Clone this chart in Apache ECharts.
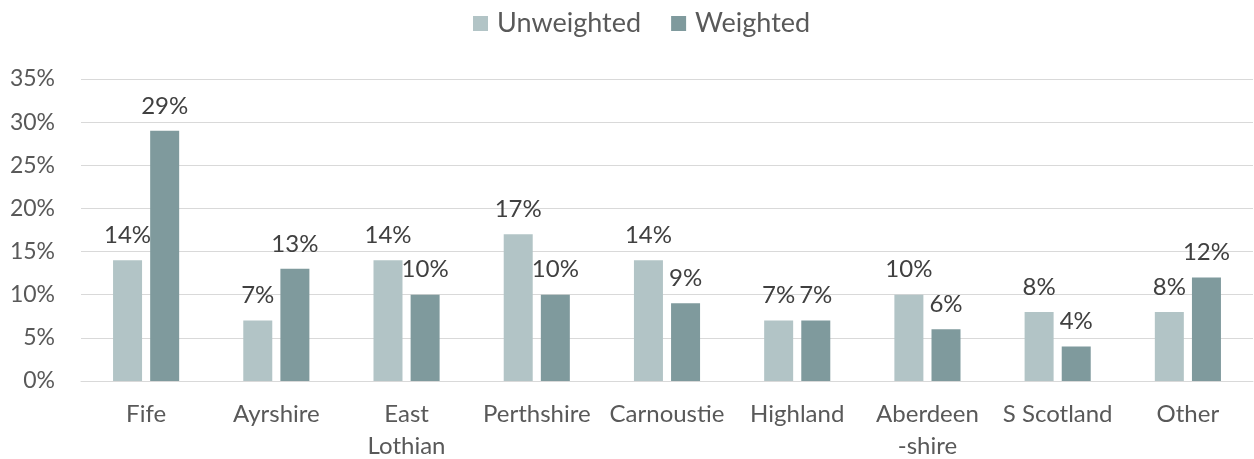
<!DOCTYPE html>
<html>
<head>
<meta charset="utf-8">
<script src="https://cdn.jsdelivr.net/npm/echarts@6/dist/echarts.min.js"></script>
<style>
  html, body { margin: 0; padding: 0; background: #fff; }
  #chart { width: 1254px; height: 459px; }
</style>
</head>
<body>
<div id="chart"></div>
<script>
var categories = ['Fife', 'Ayrshire', 'East\nLothian', 'Perthshire', 'Carnoustie', 'Highland', 'Aberdeen\n-shire', 'S Scotland', 'Other'];
var unweighted = [14, 7, 14, 17, 14, 7, 10, 8, 8];
var weighted = [29, 13, 10, 10, 9, 7, 6, 4, 12];

var font = 'Lato, "Open Sans", sans-serif';
var myChart = echarts.init(document.getElementById('chart'));
var option = {
	animation: false,
	textStyle: { fontFamily: font },
	legend: {
		top: 5,
		left: 468,
		itemWidth: 15,
		itemHeight: 15,
		itemGap: 30,
		icon: 'rect',
		textStyle: { fontSize: 27, color: '#595959', fontFamily: font, padding: [0, 0, 0, 4] },
		data: ['Unweighted', 'Weighted']
	},
	grid: { left: 81, right: 1, top: 79, bottom: 78, outerBoundsMode: 'none' },
	xAxis: {
		type: 'category',
		data: categories,
		axisLine: { lineStyle: { color: '#d9d9d9' } },
		axisTick: { show: false },
		axisLabel: { fontSize: 24, color: '#595959', margin: 17, lineHeight: 32, interval: 0, fontFamily: font }
	},
	yAxis: {
		type: 'value',
		min: 0,
		max: 35,
		interval: 5,
		axisLabel: { formatter: '{value}%', fontSize: 23, color: '#595959', margin: 26, fontFamily: font },
		splitLine: { lineStyle: { color: '#d9d9d9', width: 1 } }
	},
	series: [{
		name: 'Unweighted',
		type: 'bar',
		data: unweighted,
		barWidth: 29,
		barGap: '28%',
		itemStyle: { color: '#b2c4c6' },
		label: { show: true, position: 'top', formatter: '{c}%', fontSize: 24, color: '#404040', distance: 13, fontFamily: font }
	}, {
		name: 'Weighted',
		type: 'bar',
		data: weighted,
		barWidth: 29,
		itemStyle: { color: '#7f9a9d' },
		label: { show: true, position: 'top', formatter: '{c}%', fontSize: 24, color: '#404040', distance: 13, fontFamily: font }
	}]
};
myChart.setOption(option);
</script>
</body>
</html>
